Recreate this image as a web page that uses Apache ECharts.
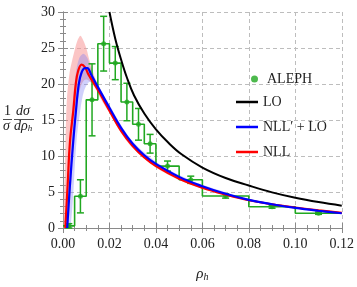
<!DOCTYPE html>
<html><head><meta charset="utf-8">
<script src="https://cdn.jsdelivr.net/npm/echarts@6/dist/echarts.min.js"></script>
<style>html,body{margin:0;padding:0;background:#fff}#c{width:357px;height:287px}</style>
</head><body><div id="c"></div>
<script>
// ---- data ----
const binEdges = [0, 0.005, 0.01, 0.015, 0.02, 0.025, 0.03, 0.035, 0.04, 0.05, 0.06, 0.08, 0.10, 0.12];
const alephValues = [0.3, 4.4, 17.8, 25.6, 22.9, 17.5, 14.4, 11.7, 8.6, 6.7, 4.45, 2.95, 2.05];
const alephErrors = [0.3, 2.3, 5.0, 3.8, 2.3, 2.6, 2.2, 1.3, 0.7, 0.5, 0.3, 0.2, 0.15];

const loCurve = [[0.02,30],[0.0225,26.3],[0.025,23.4],[0.0275,20.9],[0.0306,18.4],[0.035,15.9],[0.04,13.7],[0.0455,11.8],[0.0512,10.2],[0.06,8.4],[0.07,6.95],[0.08,5.9],[0.09,4.95],[0.10,4.2],[0.11,3.6],[0.12,3.1]];

const nllLoCurve = [[0.0018,0],[0.003,6],[0.0044,12],[0.0055,16],[0.0068,20],[0.008,21.6],[0.0095,22.2],[0.0105,22.2],[0.012,21.4],[0.015,19.6],[0.02,16.7],[0.025,13.9],[0.03,11.7],[0.035,10.1],[0.04,8.9],[0.05,7.1],[0.06,5.8],[0.07,4.75],[0.08,3.9],[0.09,3.3],[0.10,2.8],[0.11,2.4],[0.12,2.05]];
const nllCurve = [[0.001,0],[0.002,6],[0.003,12],[0.0045,16.5],[0.0055,20],[0.0065,21.8],[0.008,22.7],[0.0095,22.3],[0.011,21.3],[0.015,19.2],[0.02,16.3],[0.025,13.5],[0.03,11.4],[0.035,9.8],[0.04,8.6],[0.05,6.85],[0.06,5.6],[0.07,4.65],[0.08,3.85],[0.09,3.3],[0.10,2.85],[0.11,2.45],[0.12,2.1]];

const nllBandUpper = [[0.0003,0],[0.0008,8],[0.0016,17.5],[0.0028,21.5],[0.0041,23.5],[0.0051,24.8],[0.0062,26],[0.0075,26.7],[0.0088,26],[0.0102,24.8],[0.0112,23.5],[0.013,21.6],[0.015,19.8],[0.018,17.6],[0.02,16.7],[0.025,13.8],[0.03,11.7],[0.04,8.85],[0.05,7.05],[0.06,5.8],[0.08,4.0],[0.10,2.95],[0.12,2.2]];
const nllBandLower = [[0.0022,0],[0.0045,12],[0.006,17],[0.0075,19.5],[0.009,20.5],[0.0105,20.6],[0.012,20.2],[0.014,19.3],[0.017,17.5],[0.02,16.0],[0.025,13.2],[0.03,11.1],[0.04,8.4],[0.05,6.65],[0.06,5.45],[0.08,3.75],[0.10,2.75],[0.12,2.0]];
const nllLoBandUpper = [[0.0012,0],[0.0028,11],[0.0042,17.5],[0.0055,21.5],[0.007,23.6],[0.0088,24.2],[0.0105,23.6],[0.0115,22.6],[0.013,21.3],[0.016,19.3],[0.02,17.1],[0.025,14.3],[0.03,12.0],[0.04,9.2],[0.05,7.35],[0.06,6.0],[0.08,4.05],[0.10,2.9],[0.12,2.15]];
const nllLoBandLower = [[0.0032,0],[0.0058,12],[0.0075,16.5],[0.009,19],[0.011,20.2],[0.0125,20.2],[0.014,19.5],[0.017,17.8],[0.02,16.3],[0.025,13.5],[0.03,11.35],[0.04,8.65],[0.05,6.9],[0.06,5.6],[0.08,3.78],[0.10,2.7],[0.12,1.95]];

const xTicks = [0, 0.02, 0.04, 0.06, 0.08, 0.10, 0.12];
const yTicks = [0, 5, 10, 15, 20, 25, 30];
const legendNames = ['ALEPH', 'LO', 'NLL′ + LO', 'NLL'];

// ---- derived ----
const histData = alephValues.map((v, i) => [binEdges[i], v]).concat([[binEdges[binEdges.length-1], alephValues[alephValues.length-1]]]);
const centers = alephValues.map((v, i) => (binEdges[i] + binEdges[i+1]) / 2);
const pointData = alephValues.map((v, i) => [centers[i], v]);
const errData = alephValues.map((v, i) => [centers[i], v - alephErrors[i], v + alephErrors[i]]);

const FONT = "'Liberation Serif', 'DejaVu Serif', serif";
const GREEN = '#21a821';

function band(upper, lower, color, z) {
  const pts = upper.concat(lower.slice().reverse());
  return {
    type: 'custom', data: pts, z: z, silent: true, clip: true,
    encode: { x: 0, y: 1 },
    renderItem: function (params, api) {
      if (params.dataIndex !== 0) return null;
      return { type: 'polygon', shape: { points: pts.map(p => api.coord(p)), smooth: 0.3 }, style: { fill: color } };
    }
  };
}

const chart = echarts.init(document.getElementById('c'), null, { renderer: 'canvas' });
const axisCommon = {
  type: 'value',
  axisLine: { show: true, lineStyle: { color: '#8a8a8a', width: 1 } },
  axisTick: { show: true, inside: true, length: 5, lineStyle: { color: '#8a8a8a' } },
};
chart.setOption({
  animation: false,
  grid: { left: 63, right: 13, top: 12, bottom: 51 },
  xAxis: [
    Object.assign({}, axisCommon, {
      min: 0, max: 0.12, interval: 0.02,
      minorTick: { show: true, splitNumber: 4, length: 3, lineStyle: { color: '#8a8a8a' } },
      axisLabel: { fontFamily: FONT, fontSize: 14, color: '#222', margin: 9, formatter: v => v.toFixed(2) },
      splitLine: { show: true, lineStyle: { color: '#bdbdbd', type: [4, 3], width: 1 } },
      name: '{i|ρ}{s|h}', nameLocation: 'middle', nameGap: 38,
      nameTextStyle: { rich: { i: { fontFamily: FONT, fontStyle: 'italic', fontSize: 15, color: '#222' }, s: { fontFamily: FONT, fontStyle: 'italic', fontSize: 10, color: '#222', padding: [6, 0, 0, 0] } } }
    }),
    Object.assign({}, axisCommon, {
      position: 'top', min: 0, max: 0.12, interval: 0.02,
      minorTick: { show: true, splitNumber: 4, length: 3, lineStyle: { color: '#8a8a8a' } },
      axisLabel: { show: false }, splitLine: { show: false }
    })
  ],
  yAxis: [
    Object.assign({}, axisCommon, {
      min: 0, max: 30, interval: 5,
      minorTick: { show: true, splitNumber: 5, length: 3, lineStyle: { color: '#8a8a8a' } },
      axisLabel: { fontFamily: FONT, fontSize: 14, color: '#222', margin: 8 },
      splitLine: { show: true, lineStyle: { color: '#bdbdbd', type: [4, 3], width: 1 } }
    }),
    Object.assign({}, axisCommon, {
      position: 'right', min: 0, max: 30, interval: 5,
      minorTick: { show: true, splitNumber: 5, length: 3, lineStyle: { color: '#8a8a8a' } },
      axisLabel: { show: false }, splitLine: { show: false }
    })
  ],
  legend: [
    { data: [legendNames[0]], orient: 'vertical', left: 246, top: 67, itemWidth: 7, itemHeight: 7, itemGap: 11,
      textStyle: { fontFamily: FONT, fontSize: 14, color: '#222', padding: [0, 0, 0, 4] }, icon: 'circle' },
    { data: legendNames.slice(1), orient: 'vertical', left: 231, top: 90, itemWidth: 22, itemHeight: 2.5, itemGap: 11,
      textStyle: { fontFamily: FONT, fontSize: 14, color: '#222' }, icon: 'rect' }
  ],
  series: [
    band(nllBandUpper, nllBandLower, 'rgba(248,150,150,0.55)', 1),
    band(nllLoBandUpper, nllLoBandLower, 'rgba(120,120,245,0.35)', 2),
    { name: 'ALEPH_hist', type: 'line', step: 'end', data: histData, symbol: 'none', z: 3,
      lineStyle: { color: GREEN, width: 1.6 }, clip: true },
    { name: 'ALEPH_err', type: 'custom', data: errData, z: 4, encode: { x: 0, y: [1, 2] },
      renderItem: function (params, api) {
        const x = api.value(0), lo = api.value(1), hi = api.value(2);
        const p1 = api.coord([x, lo]), p2 = api.coord([x, hi]);
        const cap = 3.5;
        const st = { stroke: GREEN, lineWidth: 1.5 };
        return { type: 'group', children: [
          { type: 'line', shape: { x1: p1[0], y1: p1[1], x2: p2[0], y2: p2[1] }, style: st },
          { type: 'line', shape: { x1: p1[0]-cap, y1: p1[1], x2: p1[0]+cap, y2: p1[1] }, style: st },
          { type: 'line', shape: { x1: p2[0]-cap, y1: p2[1], x2: p2[0]+cap, y2: p2[1] }, style: st }
        ]};
      } },
    { name: 'ALEPH', type: 'scatter', data: pointData, symbol: 'circle', symbolSize: 5, z: 5,
      itemStyle: { color: GREEN } },
    { name: 'LO', type: 'line', data: loCurve, smooth: 0.4, symbol: 'none', z: 6,
      lineStyle: { color: '#000', width: 2 }, itemStyle: { color: '#000' } },
    { name: 'NLL', type: 'line', data: nllCurve, smooth: 0.4, symbol: 'none', z: 6,
      lineStyle: { color: '#ff0000', width: 2.2 }, itemStyle: { color: '#ff0000' } },
    { name: 'NLL′ + LO', type: 'line', data: nllLoCurve, smooth: 0.4, symbol: 'none', z: 7,
      lineStyle: { color: '#0000ff', width: 2.2 }, itemStyle: { color: '#0000ff' } }
  ],
  graphic: [
    { type: 'text', left: 4, top: 104, style: { text: '1', fontFamily: FONT, fontSize: 14, fill: '#222' } },
    { type: 'line', shape: { x1: 3, y1: 119.5, x2: 12, y2: 119.5 }, style: { stroke: '#222', lineWidth: 0.8 } },
    { type: 'text', left: 3, top: 119, style: { text: 'σ', fontFamily: FONT, fontStyle: 'italic', fontSize: 14, fill: '#222' } },
    { type: 'text', left: 16, top: 104, style: { text: 'dσ', fontFamily: FONT, fontStyle: 'italic', fontSize: 14, fill: '#222' } },
    { type: 'line', shape: { x1: 14, y1: 119.5, x2: 34, y2: 119.5 }, style: { stroke: '#222', lineWidth: 0.8 } },
    { type: 'text', left: 14, top: 119, style: { text: '{a|dρ}{s|h}', fontFamily: FONT, fontStyle: 'italic', fontSize: 14, fill: '#222',
      rich: { a: { fontFamily: FONT, fontStyle: 'italic', fontSize: 14, fill: '#222' }, s: { fontFamily: FONT, fontStyle: 'italic', fontSize: 9, fill: '#222', padding: [5, 0, 0, 0] } } } }
  ]
});
</script></body></html>
